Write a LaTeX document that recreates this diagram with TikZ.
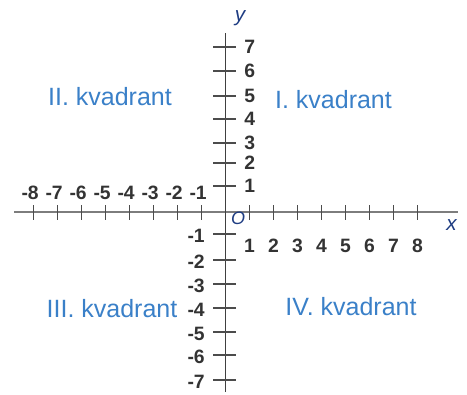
\documentclass[tikz,border=0pt]{standalone}
\usepackage{fontspec}
\setmainfont{Liberation Sans}
\usetikzlibrary{positioning}
\definecolor{quadblue}{RGB}{58,128,200}
\definecolor{axisgray}{RGB}{125,125,125}
\definecolor{labelnavy}{RGB}{30,60,130}

\begin{document}
\begin{tikzpicture}[x=0.75pt,y=-0.75pt,
  num/.style={font=\fontsize{14.5}{16}\selectfont\bfseries,text=black!80,inner sep=0pt},
  quad/.style={font=\fontsize{18.75}{22}\selectfont,text=quadblue,inner sep=0pt},
  axlabel/.style={font=\fontsize{15.5}{17}\selectfont\itshape,text=labelnavy,inner sep=0pt},
  tickmark/.style={black!70,line width=0.9pt}]
  \useasboundingbox (0,0) rectangle (467,394);
  % axes
  \coordinate (xa) at (14,212); \coordinate (xb) at (458,212);
  \coordinate (ya) at (225.5,33); \coordinate (yb) at (225.5,392);
  \draw[axisgray,line width=1.1pt] (xa)--(xb);
  \draw[black!75,line width=1pt] (ya)--(yb);
  % ticks on the x axis
  \foreach \i in {-8,...,-1} {
    \draw[tickmark] (225.5+24*\i,205)--(225.5+24*\i,220);
    \node[num,anchor=east] (xl\i) at (231+24*\i,193) {\i};
  }
  \foreach \i in {1,...,8} {
    \draw[tickmark] (225.5+24*\i,205)--(225.5+24*\i,220);
    \node[num] (xl\i) at (225.5+24*\i,245.5) {\i};
  }
  % ticks on the y axis
  \foreach \k/\ypos in {1/186,2/163,3/143,4/119,5/96,6/71,7/47} {
    \draw[tickmark] (213,\ypos)--(236,\ypos);
    \node[num,anchor=west] (yl\k) at (244,\ypos) {\k};
  }
  \foreach \k/\ypos in {-1/234,-2/260,-3/284,-4/308,-5/332,-6/355,-7/380} {
    \draw[tickmark] (213,\ypos)--(236,\ypos);
    \node[num,anchor=east] (yl\k) at (205,\ypos+2) {\k};
  }
  % axis names
  \node[axlabel] (ylab) at (240,18) {y};
  \node[axlabel] (xlab) at (451.5,225) {x};
  \node[axlabel,font=\fontsize{13.5}{15}\selectfont\itshape] (orig) at (238,218) {O};
  % quadrants
  \node[quad] (q1) at (333.5,100) {I. kvadrant};
  \node[quad] (q2) at (110,97) {II. kvadrant};
  \node[quad] (q3) at (112,309) {III. kvadrant};
  \node[quad] (q4) at (351,307) {IV. kvadrant};
\end{tikzpicture}
\end{document}
